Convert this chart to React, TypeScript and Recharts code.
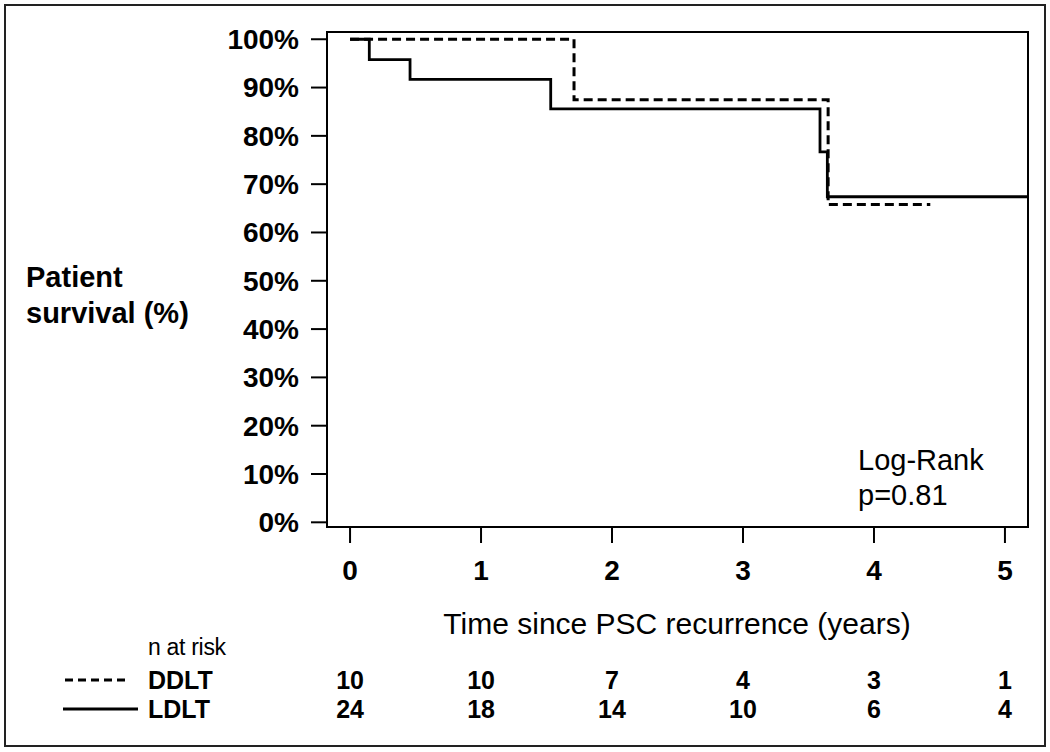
import { LineChart, Line, XAxis, YAxis, ReferenceArea } from 'recharts';

const FONT = '"Liberation Sans", Arial, Helvetica, sans-serif';

// Kaplan-Meier steps (years, % surviving)
const ldltTimes = [0, 0.147, 0.458, 1.532, 3.588, 3.644, 5.17];
const ldltSurvival = [100, 95.8, 91.7, 85.6, 76.7, 67.4, 67.4];
const ddltTimes = [0, 1.71, 3.65, 4.43];
const ddltSurvival = [100, 87.5, 65.8, 65.8];

// number at risk table
const riskTimes = [0, 1, 2, 3, 4, 5];
const ddltAtRisk = [10, 10, 7, 4, 3, 1];
const ldltAtRisk = [24, 18, 14, 10, 6, 4];

const yTicks = [0, 10, 20, 30, 40, 50, 60, 70, 80, 90, 100];

const X_MIN = -0.176;
const X_MAX = 5.176;
const Y_MIN = -0.97;
const Y_MAX = 101.5;

const ldltData = ldltTimes.map((t, i) => ({ t, s: ldltSurvival[i] }));
const ddltData = ddltTimes.map((t, i) => ({ t, s: ddltSurvival[i] }));

const riskLabel = (counts: number[]) => (v: number) => {
  const i = riskTimes.indexOf(v);
  return i >= 0 ? String(counts[i]) : '';
};

export default function App() {
  return (
    <div style={{ position: 'absolute', left: 0, top: 0, width: 1050, height: 752, background: '#fff', fontFamily: FONT }}>
      <div
        style={{
          position: 'absolute',
          left: 4,
          top: 4,
          width: 1042,
          height: 743,
          border: '2px solid #222',
          boxSizing: 'border-box',
        }}
      />
      <div style={{ position: 'absolute', left: 0, top: 0 }}>
        <LineChart width={1050} height={752} margin={{ top: 32, right: 22, left: 267, bottom: 36 }}>
          <XAxis
            dataKey="t"
            type="number"
            domain={[X_MIN, X_MAX]}
            allowDataOverflow
            ticks={riskTimes}
            interval={0}
            height={130}
            axisLine={false}
            tickSize={16}
            tickMargin={17}
            tickLine={{ stroke: '#000', strokeWidth: 2 }}
            tick={{ fill: '#000', fontSize: 28, fontWeight: 'bold', fontFamily: FONT }}
          />
          <XAxis
            xAxisId="ddlt"
            dataKey="t"
            type="number"
            domain={[X_MIN, X_MAX]}
            allowDataOverflow
            ticks={riskTimes}
            interval={0}
            height={29}
            axisLine={false}
            tickLine={false}
            tickSize={0}
            tickMargin={14}
            tickFormatter={riskLabel(ddltAtRisk)}
            tick={{ fill: '#000', fontSize: 25, fontWeight: 'bold', fontFamily: FONT }}
          />
          <XAxis
            xAxisId="ldlt"
            dataKey="t"
            type="number"
            domain={[X_MIN, X_MAX]}
            allowDataOverflow
            ticks={riskTimes}
            interval={0}
            height={30}
            axisLine={false}
            tickLine={false}
            tickSize={0}
            tickMargin={14}
            tickFormatter={riskLabel(ldltAtRisk)}
            tick={{ fill: '#000', fontSize: 25, fontWeight: 'bold', fontFamily: FONT }}
          />
          <YAxis
            type="number"
            domain={[Y_MIN, Y_MAX]}
            allowDataOverflow
            ticks={yTicks}
            interval={0}
            width={60}
            axisLine={false}
            tickSize={16}
            tickMargin={12}
            tickLine={{ stroke: '#000', strokeWidth: 2 }}
            tickFormatter={(v: number) => `${v}%`}
            tick={{ fill: '#000', fontSize: 28, fontWeight: 'bold', fontFamily: FONT }}
          />
          <ReferenceArea x1={X_MIN} x2={X_MAX} y1={Y_MIN} y2={Y_MAX} fill="none" stroke="#000" strokeWidth={2} />
          <Line
            data={ddltData}
            dataKey="s"
            type="stepAfter"
            stroke="#000"
            strokeWidth={3}
            strokeDasharray="9 5"
            dot={false}
            activeDot={false}
            isAnimationActive={false}
          />
          <Line
            data={ldltData}
            dataKey="s"
            type="stepAfter"
            stroke="#000"
            strokeWidth={2.8}
            dot={false}
            activeDot={false}
            isAnimationActive={false}
          />
        </LineChart>
      </div>
      <svg width={1050} height={752} style={{ position: 'absolute', left: 0, top: 0, pointerEvents: 'none' }}>
        <g fontFamily={FONT} fill="#000">
          <text x={26} y={287} fontSize={29} fontWeight="bold">Patient</text>
          <text x={26} y={323} fontSize={29} fontWeight="bold">survival (%)</text>
          <text x={858} y={470} fontSize={29}>Log-Rank</text>
          <text x={858} y={505} fontSize={29}>p=0.81</text>
          <text x={677} y={634} fontSize={30} textAnchor="middle">Time since PSC recurrence (years)</text>
          <text x={148} y={655} fontSize={23} letterSpacing={-0.3}>n at risk</text>
          <text x={148} y={689} fontSize={25} fontWeight="bold">DDLT</text>
          <text x={148} y={718} fontSize={25} fontWeight="bold">LDLT</text>
        </g>
        <line x1={65} x2={130} y1={680} y2={680} stroke="#000" strokeWidth={3} strokeDasharray="8 5" />
        <line x1={63} x2={138} y1={709} y2={709} stroke="#000" strokeWidth={2.8} />
      </svg>
    </div>
  );
}
